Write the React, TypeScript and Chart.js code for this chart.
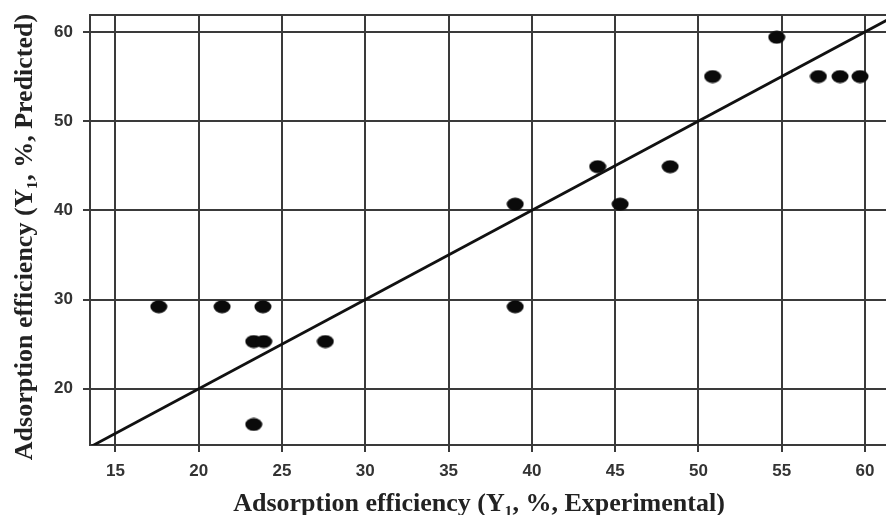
import React, { useEffect, useRef } from "react";
import { Chart, registerables } from "chart.js";

Chart.register(...registerables);

// Data
const experimental = [17.6, 21.4, 23.85, 23.3, 23.9, 23.3, 27.6, 39.0, 39.0, 43.95, 45.3, 48.3, 50.85, 54.7, 57.2, 58.5, 59.7];
const predicted = [29.2, 29.2, 29.2, 25.3, 25.3, 16.0, 25.3, 40.7, 29.2, 44.9, 40.7, 44.9, 55.0, 59.4, 55.0, 55.0, 55.0];
const fitLineX = [13.0, 62.5];
const fitLineY = [13.0, 62.5];
const xTicks = [15, 20, 25, 30, 35, 40, 45, 50, 55, 60];
const yTicks = [20, 30, 40, 50, 60];
const xTitle = "Adsorption efficiency (Y\u2081, %, Experimental)";
const yTitle = "Adsorption efficiency (Y\u2081, %, Predicted)";

function makeEllipse(w: number, h: number): HTMLCanvasElement {
  const c = document.createElement("canvas");
  c.width = w;
  c.height = h;
  const ctx = c.getContext("2d")!;
  ctx.fillStyle = "#0a0a0a";
  ctx.beginPath();
  ctx.ellipse(w / 2, h / 2, w / 2 - 0.5, h / 2 - 0.5, 0, 0, Math.PI * 2);
  ctx.fill();
  return c;
}

export default function App() {
  const ref = useRef<HTMLCanvasElement | null>(null);

  useEffect(() => {
    if (!ref.current) return;
    const dot = makeEllipse(18, 14);
    const gridColor = "#3a3a3a";

    const frame = {
      id: "frameAndTitles",
      afterDraw(chart: any) {
        const { ctx, chartArea } = chart;
        ctx.save();
        ctx.strokeStyle = gridColor;
        ctx.lineWidth = 2;
        ctx.beginPath();
        ctx.moveTo(chartArea.left, chartArea.top);
        ctx.lineTo(chartArea.right, chartArea.top);
        ctx.stroke();

        ctx.fillStyle = "#222";
        ctx.font = 'bold 26px "Liberation Serif", serif';
        ctx.textAlign = "center";
        ctx.textBaseline = "middle";
        ctx.fillText(xTitle, 479, 504);
        ctx.translate(25, 237);
        ctx.rotate(-Math.PI / 2);
        ctx.fillText(yTitle, 0, 0);
        ctx.restore();
      },
    };

    const chart = new Chart(ref.current, {
      type: "scatter",
      data: {
        datasets: [
          {
            type: "line",
            data: fitLineX.map((x, i) => ({ x, y: fitLineY[i] })),
            borderColor: "#111",
            borderWidth: 2.8,
            pointRadius: 0,
            showLine: true,
            fill: false,
          } as any,
          {
            data: experimental.map((x, i) => ({ x, y: predicted[i] })),
            pointStyle: dot as any,
            pointRadius: 8,
            backgroundColor: "#000",
            borderColor: "#000",
          },
        ],
      },
      options: {
        responsive: false,
        animation: false,
        layout: { autoPadding: false, padding: { top: 15, right: 0, left: 0, bottom: 0 } },
        plugins: { legend: { display: false }, tooltip: { enabled: false } },
        scales: {
          x: {
            type: "linear",
            min: 13.47,
            max: 61.26,
            afterBuildTicks: (s: any) => {
              s.ticks = xTicks.map((v) => ({ value: v }));
            },
            afterFit: (s: any) => {
              s.height = 70;
              s.paddingLeft = 0;
              s.paddingRight = 0;
            },
            grid: { color: gridColor, lineWidth: 2, tickLength: 7, drawTicks: true },
            border: { display: true, color: gridColor, width: 2 },
            ticks: {
              color: "#333",
              padding: 9,
              font: { family: '"Liberation Sans", Arial, sans-serif', weight: "bold", size: 17 },
            },
          },
          y: {
            type: "linear",
            min: 13.7,
            max: 61.9,
            afterBuildTicks: (s: any) => {
              s.ticks = yTicks.map((v) => ({ value: v }));
            },
            afterFit: (s: any) => {
              s.width = 90;
              s.paddingTop = 0;
              s.paddingBottom = 0;
            },
            grid: { color: gridColor, lineWidth: 2, tickLength: 7, drawTicks: true },
            border: { display: true, color: gridColor, width: 2 },
            ticks: {
              color: "#333",
              padding: 10,
              font: { family: '"Liberation Sans", Arial, sans-serif', weight: "bold", size: 17 },
            },
          },
        },
      },
      plugins: [frame],
    } as any);

    return () => chart.destroy();
  }, []);

  return (
    <div style={{ position: "absolute", left: 0, top: 0, width: 886, height: 515, background: "#fff" }}>
      <canvas ref={ref} width={886} height={515} style={{ display: "block" }} />
    </div>
  );
}
